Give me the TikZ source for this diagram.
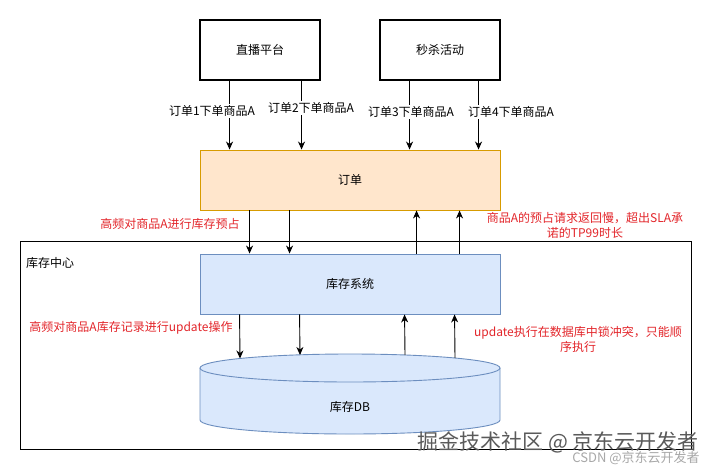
\documentclass[tikz,border=0pt]{standalone}
\usepackage{fontspec}
\setmainfont{Noto Sans CJK SC}
\usetikzlibrary{arrows.meta,calc}
\definecolor{ordfill}{HTML}{FFE6CC}
\definecolor{orddraw}{HTML}{D79B00}
\definecolor{sysfill}{HTML}{DAE8FC}
\definecolor{sysdraw}{HTML}{6C8EBF}
\definecolor{lblred}{HTML}{E3262B}
\definecolor{wmdark}{HTML}{5A5A5A}
\definecolor{wmlight}{HTML}{A8A8A8}
\begin{document}
\begin{tikzpicture}[x=1pt,y=-1pt,
  every node/.style={font=\fontsize{12}{15}\selectfont, inner sep=1pt},
  srcbox/.style={draw, line width=1.1pt, minimum width=120pt, minimum height=60pt},
  ordbox/.style={draw=orddraw, fill=ordfill, line width=0.9pt, minimum width=300pt, minimum height=60pt},
  sysbox/.style={draw=sysdraw, fill=sysfill, line width=0.9pt, minimum width=300pt, minimum height=60pt},
  arr/.style={-{Stealth[length=8pt,width=7pt,inset=2.5pt]}, line width=0.9pt, black},
  edgelbl/.style={fill=white, inner sep=1.5pt},
  redlbl/.style={text=lblred, align=center},
  framebox/.style={draw, line width=1pt, minimum width=671pt, minimum height=208pt, inner sep=0pt, anchor=north west}
]
\useasboundingbox (0,0) rectangle (711,471);
\fill[white] (0,0) rectangle (711,471);

% frame
\node[framebox] (frame) at (20,241) {};
\node[anchor=west] (kczx) at (25,263) {库存中心};

% top boxes
\node[srcbox] (zb) at (260,50) {直播平台};
\node[srcbox] (ms) at (440,50) {秒杀活动};

% order and stock system
\node[ordbox] (dd) at (350,180) {订单};
\node[sysbox] (kcs) at (350,284) {库存系统};

% database cylinder
\fill[sysfill] (200,368) -- (200,420) arc[start angle=180, end angle=0, x radius=150, y radius=14]
  -- (500,368) arc[start angle=0, end angle=180, x radius=150, y radius=14] -- cycle;
\draw[sysdraw, line width=0.9pt] (200,368) -- (200,420) arc[start angle=180, end angle=0, x radius=150, y radius=14] -- (500,368);
\draw[sysdraw, line width=0.9pt, fill=sysfill] (350,368) ellipse[x radius=150, y radius=14];
\node (db) at (350,407) {库存DB};
\coordinate (dbA) at (240,358.5);
\coordinate (dbB) at (300,355);
\coordinate (dbC) at (405,355);
\coordinate (dbD) at (455,358);

% arrows: sources -> order
\draw[arr] ($(zb.south west)+(30,0)$) -- ($(dd.north west)+(30,0)$);
\draw[arr] ($(zb.south west)+(102,0)$) -- ($(dd.north west)+(102,0)$);
\draw[arr] ($(ms.south west)+(30,0)$) -- ($(dd.north west)+(210,0)$);
\draw[arr] ($(ms.south west)+(99,0)$) -- ($(dd.north west)+(279,0)$);
\node[edgelbl] (e1) at (212,111) {订单1下单商品A};
\node[edgelbl] (e2) at (311,108) {订单2下单商品A};
\node[edgelbl] (e3) at (411,112) {订单3下单商品A};
\node[edgelbl] (e4) at (511,112) {订单4下单商品A};

% order <-> stock system
\draw[arr] ($(dd.south west)+(50,0)$) -- ($(kcs.north west)+(50,0)$);
\draw[arr] ($(dd.south west)+(90,0)$) -- ($(kcs.north west)+(90,0)$);
\draw[arr] ($(kcs.north west)+(217,0)$) -- ($(dd.south west)+(217,0)$);
\draw[arr] ($(kcs.north west)+(260,0)$) -- ($(dd.south west)+(260,0)$);

% stock system <-> db
\draw[arr] ($(kcs.south west)+(40,0)$) -- (dbA);
\draw[arr] ($(kcs.south west)+(100,0)$) -- (dbB);
\draw[arr] (dbC) -- ($(kcs.south west)+(205,0)$);
\draw[arr] (dbD) -- ($(kcs.south west)+(255,0)$);

% red notes
\node[redlbl] (r1) at (170,224) {高频对商品A进行库存预占};
\node[redlbl] (r2) at (585,225) {商品A的预占请求返回慢，超出SLA承\\诺的TP99时长};
\node[redlbl] (r3) at (131,328) {高频对商品A库存记录进行update操作};
\node[redlbl] (r4) at (578,339) {update执行在数据库中锁冲突，只能顺\\序执行};

% watermarks
\node[text=wmdark, font=\fontsize{21}{24}\selectfont] (wm1) at (558,442) {掘金技术社区 @ 京东云开发者};
\node[text=wmlight, font=\fontsize{13}{15}\selectfont] (wm2) at (636,458) {CSDN @京东云开发者};
\end{tikzpicture}
\end{document}
